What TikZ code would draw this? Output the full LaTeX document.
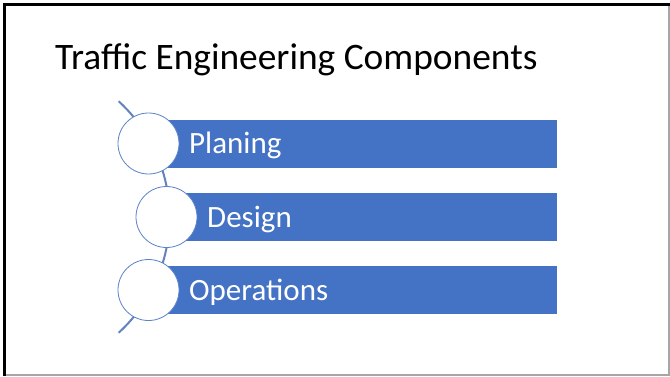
\documentclass[tikz,border=0pt]{standalone}
\usepackage{fontspec}
\setmainfont{Carlito}
\definecolor{barblue}{HTML}{4472C4}
\definecolor{ringblue}{HTML}{5B83C9}
\definecolor{arcblue}{RGB}{100,130,190}
\begin{document}
\begin{tikzpicture}[x=1pt,y=1pt,
  bar/.style={fill=barblue,draw=none,minimum height=48pt,inner sep=0pt,anchor=west},
  ring/.style={circle,fill=white,draw=ringblue,line width=0.8pt,minimum size=61pt,inner sep=0pt},
  label/.style={text=white,font=\fontsize{31}{37}\selectfont,anchor=base west,inner sep=0pt},
]
\useasboundingbox (0,0) rectangle (670,376);
\fill[white] (0,0) rectangle (670,376);
% frame
\draw[gray!70,line width=1.5pt] (4.5,1) -- (668.8,1) -- (668.8,371.5);
\draw[black,line width=3pt] (4.5,0) -- (4.5,371.5) -- (670,371.5);
% title
\node[anchor=base west,inner sep=0pt,font=\fontsize{37.4}{44}\selectfont] (title) at (55,307) {Traffic Engineering Components};
% arc
\coordinate (arcc) at (12.6,159);
\draw[arcblue,line width=2pt] ([shift={(47.5:157)}]arcc) arc[start angle=47.5,end angle=-47.5,radius=157];
% bars
\node[bar,minimum width=408.5pt] (b1) at (148.5,232.5) {};
\node[bar,minimum width=390.5pt] (b2) at (166.5,159) {};
\node[bar,minimum width=408.5pt] (b3) at (148.5,86) {};
% circles
\node[ring] (c1) at (148.5,232.5) {};
\node[ring] (c2) at (166.5,159) {};
\node[ring] (c3) at (148.5,86) {};
% labels
\node[label] (t1) at (189,222.5) {Planing};
\node[label] (t2) at (207,149) {Design};
\node[label] (t3) at (189,76) {Operations};
\end{tikzpicture}
\end{document}
